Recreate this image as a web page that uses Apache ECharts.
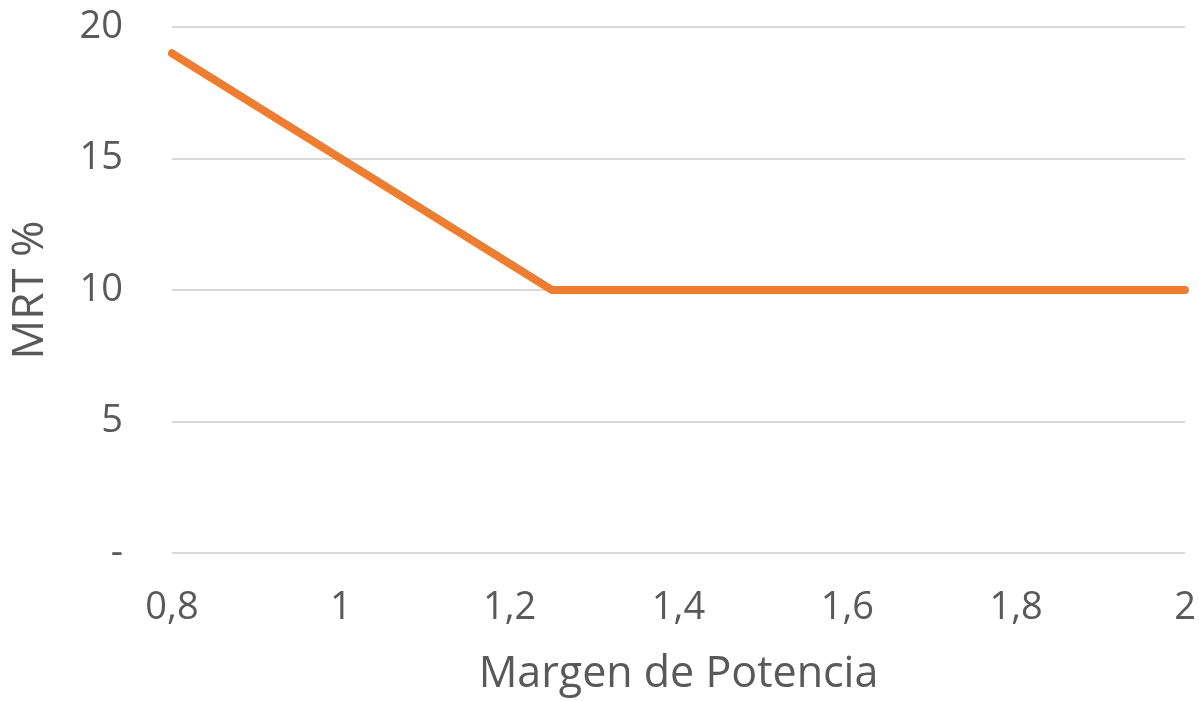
<!DOCTYPE html>
<html>
<head>
<meta charset="utf-8">
<script src="https://cdn.jsdelivr.net/npm/echarts@6/dist/echarts.min.js"></script>
<style>
  html, body { margin: 0; padding: 0; background: #fff; }
  #chart { width: 1199px; height: 701px; }
</style>
</head>
<body>
<div id="chart"></div>
<script>
// Margen de Potencia vs MRT %
const margenPotencia = [0.8, 1.25, 2];
const mrtPct = [19, 10, 10];
const xTicks = [0.8, 1, 1.2, 1.4, 1.6, 1.8, 2];
const yTicks = [0, 5, 10, 15, 20];

const labelColor = '#595959';
const fontFamily = '"Open Sans", "Noto Sans", sans-serif';

const chart = echarts.init(document.getElementById('chart'));
chart.setOption({
  animation: false,
  grid: { left: 172, right: 14, top: 27, bottom: 144 },
  xAxis: {
    type: 'value',
    min: xTicks[0],
    max: xTicks[xTicks.length - 1],
    interval: 0.2,
    name: 'Margen de Potencia',
    nameLocation: 'middle',
    nameGap: 100,
    nameTextStyle: { color: labelColor, fontSize: 43, fontFamily },
    axisLine: { show: false },
    axisTick: { show: false },
    splitLine: { show: false },
    axisLabel: {
      color: labelColor, fontSize: 38, fontFamily, margin: 36,
      formatter: v => String(Math.round(v * 10) / 10).replace('.', ',')
    }
  },
  yAxis: {
    type: 'value',
    min: yTicks[0],
    max: yTicks[yTicks.length - 1],
    interval: 5,
    name: 'MRT %',
    nameLocation: 'middle',
    nameGap: 120,
    nameTextStyle: { color: labelColor, fontSize: 44, fontFamily },
    axisLine: { show: false },
    axisTick: { show: false },
    splitLine: { lineStyle: { color: '#d9d9d9', width: 2 } },
    axisLabel: {
      color: labelColor, fontSize: 38, fontFamily, margin: 49,
      formatter: v => (v === 0 ? '-' : String(v))
    }
  },
  series: [{
    type: 'line',
    data: margenPotencia.map((x, i) => [x, mrtPct[i]]),
    symbol: 'none',
    lineStyle: { color: '#ED7D31', width: 8, cap: 'round', join: 'miter' }
  }]
});
</script>
</body>
</html>
